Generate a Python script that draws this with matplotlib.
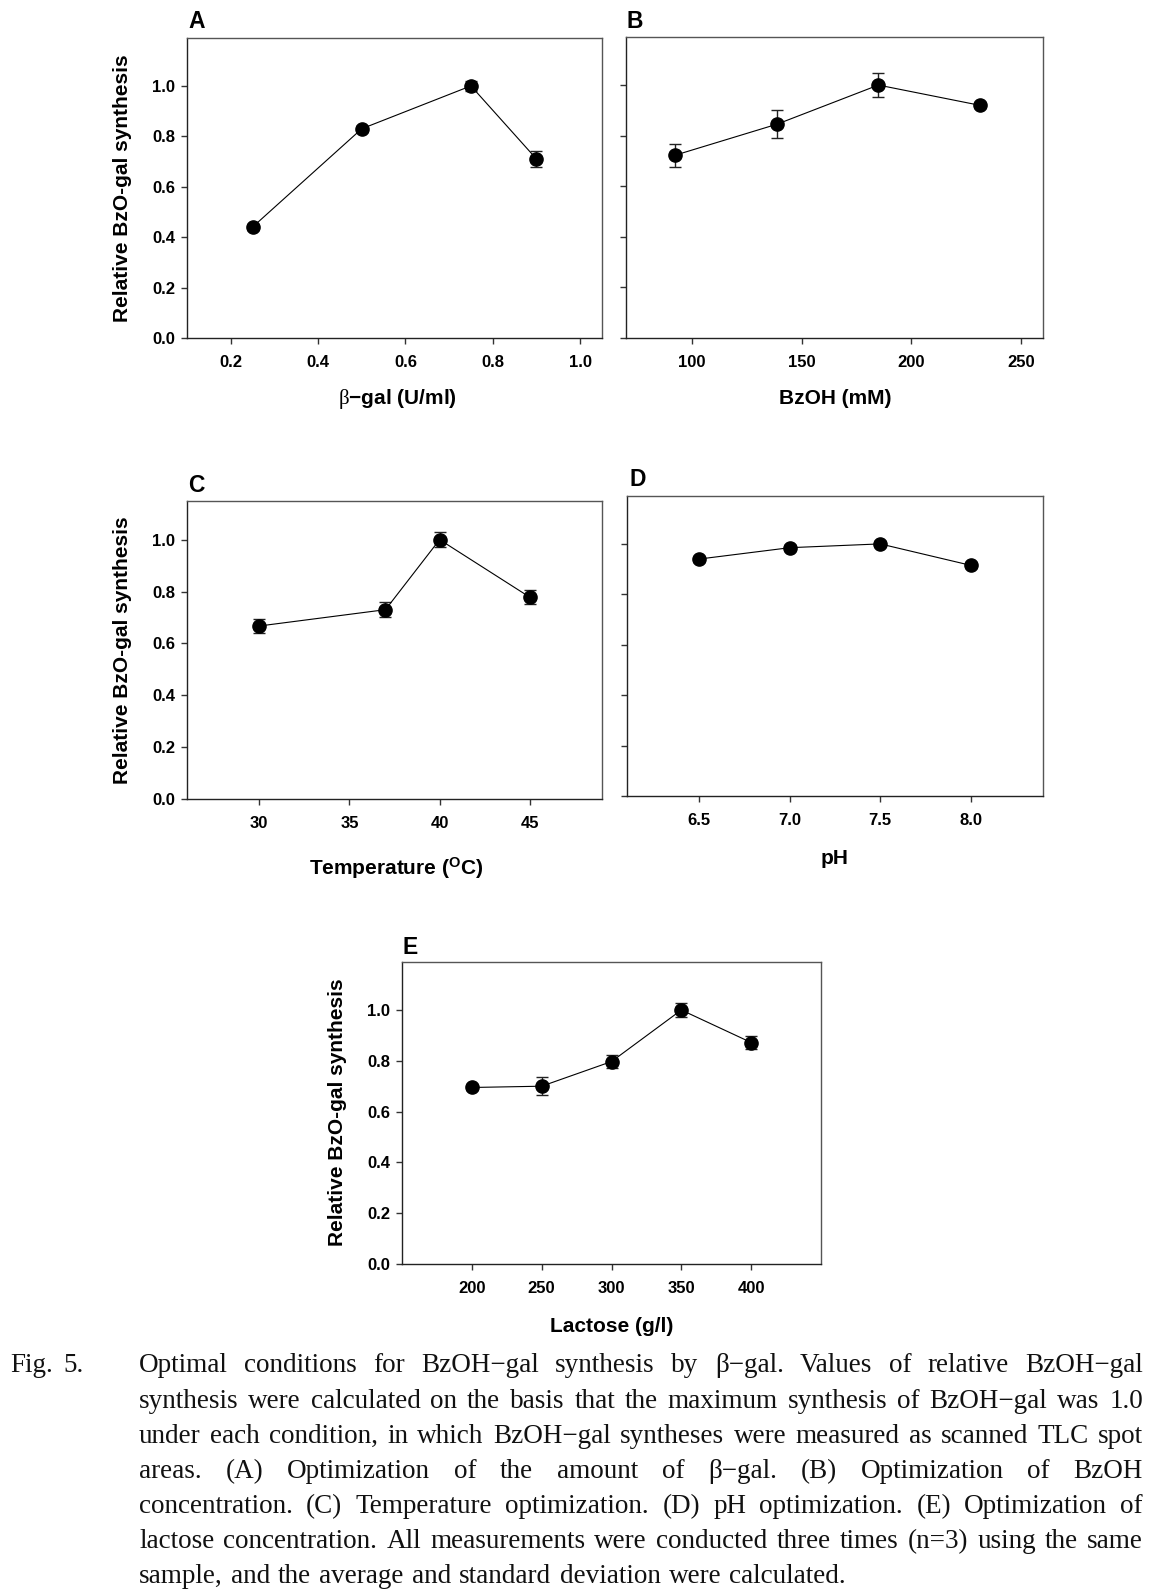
import matplotlib
matplotlib.use("Agg")
import matplotlib.pyplot as plt
import numpy as np

plt.rcParams['font.family'] = ['Liberation Sans', 'DejaVu Sans']
plt.rcParams['mathtext.fontset'] = 'custom'
plt.rcParams['mathtext.rm'] = 'Liberation Serif'
plt.rcParams['mathtext.bf'] = 'Liberation Sans:bold'
plt.rcParams['mathtext.default'] = 'bf'

# ---------------- data ----------------
a_x = [0.25, 0.5, 0.75, 0.9]
a_y = [0.44, 0.83, 1.0, 0.71]
a_err = [0.01, 0.012, 0.02, 0.033]

b_x = [92.5, 138.7, 185.0, 231.2]
b_y = [0.723, 0.845, 1.0, 0.92]
b_err = [0.045, 0.055, 0.049, 0.01]

c_x = [30, 37, 40, 45]
c_y = [0.667, 0.73, 1.0, 0.778]
c_err = [0.028, 0.03, 0.03, 0.028]

d_x = [6.5, 7.0, 7.5, 8.0]
d_y = [0.94, 0.985, 1.0, 0.915]
d_err = [0.01, 0.01, 0.01, 0.01]

e_x = [200, 250, 300, 350, 400]
e_y = [0.695, 0.70, 0.797, 1.0, 0.872]
e_err = [0.01, 0.035, 0.027, 0.029, 0.026]

y_ticks = [0.0, 0.2, 0.4, 0.6, 0.8, 1.0]
a_ticks = [0.2, 0.4, 0.6, 0.8, 1.0]
b_ticks = [100, 150, 200, 250]
c_ticks = [30, 35, 40, 45]
d_ticks = [6.5, 7.0, 7.5, 8.0]
e_ticks = [200, 250, 300, 350, 400]

ylabel = "Relative BzO-gal synthesis"
caption_lines = [
    "Optimal conditions for BzOH\u2212gal synthesis by \u03b2\u2212gal. Values of relative BzOH\u2212gal",
    "synthesis were calculated on the basis that the maximum synthesis of BzOH\u2212gal was 1.0",
    "under each condition, in which BzOH\u2212gal syntheses were measured as scanned TLC spot",
    "areas. (A) Optimization of the amount of \u03b2\u2212gal. (B) Optimization of BzOH",
    "concentration. (C) Temperature optimization. (D) pH optimization. (E) Optimization of",
    "lactose concentration. All measurements were conducted three times (n=3) using the same",
    "sample, and the average and standard deviation were calculated.",
]

W, H = 1163, 1592
fig = plt.figure(figsize=(W / 100, H / 100), dpi=100)


def make_ax(l, r, t, b):
    return fig.add_axes([l / W, (H - b) / H, (r - l) / W, (b - t) / H])


def style(ax, x, y, err, xlim, ylim_top, xticks, xfmt, letter, xlabel,
          xlab_pos, show_y=True, ylab_pos=None, letter_pos=None):
    ax.errorbar(x, y, yerr=err, fmt='o', color='black', ms=9.5,
                ecolor='#222222', elinewidth=1.0, capsize=4.2, capthick=1.0,
                ls='-', lw=0.8, zorder=3)
    ax.set_xlim(*xlim)
    ax.set_ylim(0, ylim_top)
    ax.set_xticks(xticks)
    ax.set_xticklabels([xfmt.format(v) for v in xticks])
    ax.set_yticks(y_ticks)
    if show_y:
        ax.set_yticklabels(["{:.1f}".format(v) for v in y_ticks])
    else:
        ax.set_yticklabels([])
    ax.tick_params(axis='both', direction='out', length=4, width=1,
                   color='#333333', labelsize=12)
    ax.tick_params(axis='x', pad=8.5)
    ax.tick_params(axis='y', pad=4.5)
    for lab in ax.get_xticklabels() + ax.get_yticklabels():
        lab.set_fontweight('bold')
    for s in ['left', 'bottom']:
        ax.spines[s].set_color('#222222')
        ax.spines[s].set_linewidth(1.0)
    for s in ['top', 'right']:
        ax.spines[s].set_color('#555555')
        ax.spines[s].set_linewidth(1.0)
    ax.set_xlabel(xlabel, fontsize=15, fontweight='bold', va='center')
    ax.xaxis.set_label_coords(*xlab_pos)
    if show_y:
        ax.set_ylabel(ylabel, fontsize=15, fontweight='bold', va='center')
        ax.yaxis.set_label_coords(*ylab_pos)
    ax.text(letter_pos[0], letter_pos[1], letter, transform=ax.transAxes,
            fontsize=16.5, fontweight='bold', ha='center', va='center')


# Panel A
axA = make_ax(187, 602, 38, 338)
style(axA, a_x, a_y, a_err, (0.1, 1.05), 1.19, a_ticks, "{:.1f}", "A",
      r"$\mathrm{\beta}$" + "\u2212gal (U/ml)",
      ((397 - 187) / 415, -(399 - 338) / 300), True,
      ((123 - 187) / 415, (338 - 188) / 300),
      ((197 - 187) / 415, (338 - 22) / 300))

# Panel B
axB = make_ax(626, 1043, 37, 338)
style(axB, b_x, b_y, b_err, (70, 260), 1.19, b_ticks, "{:d}", "B",
      "BzOH (mM)", ((835 - 626) / 417, -(399 - 338) / 301), False, None,
      ((635 - 626) / 417, (338 - 22) / 301))

# Panel C
axC = make_ax(187, 602, 501, 799)
style(axC, c_x, c_y, c_err, (26, 49), 1.149, c_ticks, "{:d}", "C",
      "Temperature ($^{O}$C)", ((396 - 187) / 415, -(868 - 799) / 298), True,
      ((123 - 187) / 415, (799 - 650) / 298),
      ((196 - 187) / 415, (799 - 486) / 298))

# Panel D
axD = make_ax(627, 1043, 496, 796)
style(axD, d_x, d_y, d_err, (6.1, 8.4), 1.19, d_ticks, "{:.1f}", "D",
      "pH", ((835 - 627) / 416, -(858 - 796) / 300), False, None,
      ((638 - 627) / 416, (796 - 480) / 300))

# Panel E
axE = make_ax(402, 821, 962, 1264)
style(axE, e_x, e_y, e_err, (150, 450), 1.189, e_ticks, "{:d}", "E",
      "Lactose (g/l)", ((612 - 402) / 419, -(1327 - 1264) / 302), True,
      ((338 - 402) / 419, (1264 - 1112) / 302),
      ((410 - 402) / 419, (1264 - 947) / 302))

# ---------------- caption (justified) ----------------
fig.canvas.draw()
renderer = fig.canvas.get_renderer()
cap_font = dict(family=['Liberation Serif', 'DejaVu Serif'], fontsize=19.5,
                color='#111111')
line_centers = [1364, 1400, 1435, 1470, 1505, 1540, 1575]
x0, x1 = 139, 1143


def put_words(words, y_px, xs, xe, justify=True):
    ts = [fig.text(0, 1 - (y_px + 8) / H, w, va='baseline', ha='left', **cap_font)
          for w in words]
    widths = [t.get_window_extent(renderer).width for t in ts]
    if justify and len(words) > 1:
        gap = (xe - xs - sum(widths)) / (len(words) - 1)
    else:
        gap = cap_font['fontsize'] * 100 / 72 * 0.3
    x = xs
    for t, w in zip(ts, widths):
        t.set_x(x / W)
        x += w + gap


fig.text(10 / W, 1 - (line_centers[0] + 8) / H, "Fig.", va='baseline', ha='left', **cap_font)
fig.text(63 / W, 1 - (line_centers[0] + 8) / H, "5.", va='baseline', ha='left', **cap_font)
for i, line in enumerate(caption_lines):
    put_words(line.split(' '), line_centers[i], x0, x1,
              justify=(i != len(caption_lines) - 1))

fig.savefig("out.png", dpi=100, facecolor='white')
